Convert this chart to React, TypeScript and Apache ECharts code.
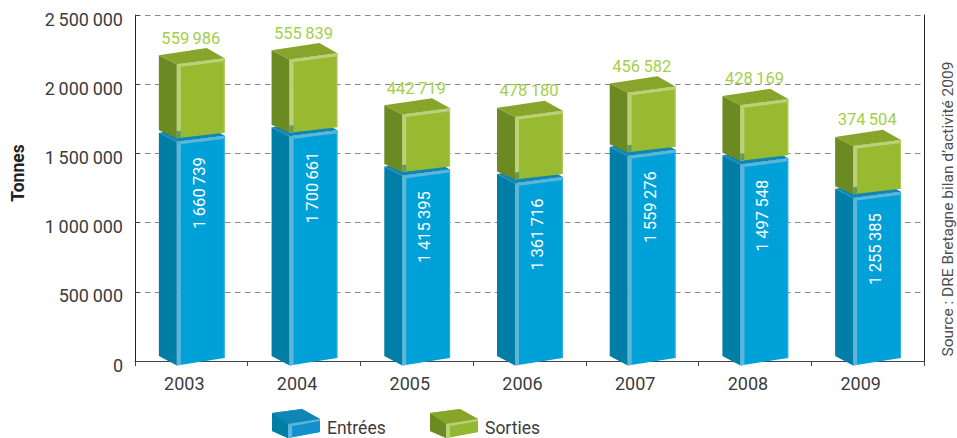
import React, { useEffect, useRef } from "react";
import * as echarts from "echarts";

const years = ["2003", "2004", "2005", "2006", "2007", "2008", "2009"];
const entrees = [1660739, 1700661, 1415395, 1361716, 1559276, 1497548, 1255385];
const sorties = [559986, 555839, 442719, 478180, 456582, 428169, 374504];
const seriesNames = ["Entrées", "Sorties"];
const sourceText = "Source : DRE Bretagne bilan d’activité 2009";
const yName = "Tonnes";

const FONT = "Roboto, 'Noto Sans', sans-serif";
const THIN = "\u2009";
const fmt = (n: number) => String(n).replace(/\B(?=(\d{3})+$)/g, THIN);

const blue = { front: "#00a1d9", left: "#007ea5", top: "#0f86b3", strip: "#5db6d8", edge: "#2fb0e0", label: "#ffffff", legendFront: "#1192cc" };
const green = { front: "#97ba30", left: "#6c8a22", top: "#86a52a", strip: "#bcd07a", edge: "#b0cb5a", label: "#a4cf4c", legendFront: "#93b832" };

const poly = (points: number[][], fill: string) => ({
  type: "polygon",
  shape: { points },
  style: { fill, stroke: "none" },
});

function renderBox(c: typeof blue, withLabel: "inside" | "above") {
  return (params: any, api: any) => {
    const idx = api.value(0);
    const val = api.value(1);
    const base = api.value(2);
    const [cx, vy] = api.coord([idx, base + val]);
    const by = api.coord([idx, base])[1];
    const xl = cx - 32.5, xf = cx - 14.5, xr = cx + 33.3, xb = cx + 15.3;
    const tL = vy + 1.5, tB = vy - 5.7, tR = vy + 4.5, tF = vy + 10.7;
    const isTopBox = base > 0;
    const bL = by + (isTopBox ? -1 : -5);
    const bF = by + (isTopBox ? 7 : 4.5);
    const bR = by + (isTopBox ? 1.5 : -3);
    const children: any[] = [
      poly([[xl, tL], [xf, tF], [xf, bF], [xl, bL]], c.left),
      poly([[xl, tL], [xb, tB], [xr, tR], [xf, tF]], c.top),
      poly([[xf, tF], [xr, tR], [xr, bR], [xf, bF]], c.front),
      poly([[xf, tF], [xr, tR], [xr, tR + 3], [xf + 4, tF + 2.5]], c.strip),
      poly([[xf, tF], [xf + 4, tF + 2.5], [xf + 4, bF - 0.5], [xf, bF]], c.strip),
      poly([[xr - 1, tR], [xr, tR], [xr, bR], [xr - 1, bR]], c.edge),
    ];
    if (isTopBox) {
      children.push(poly([[xf, bF - 7], [xf + 4, bF - 7.5], [xf + 4, bF - 0.5], [xf, bF]], "#5f9c5c"));
    }
    if (withLabel === "inside") {
      children.push({
        type: "text",
        x: cx + 8,
        y: vy + 26,
        rotation: Math.PI / 2,
        style: { text: fmt(val), fill: c.label, font: `16.5px ${FONT}`, align: "right", verticalAlign: "middle" },
      });
    } else {
      children.push({
        type: "text",
        x: cx - 0.5,
        y: vy - 15.5,
        style: { text: fmt(val), fill: c.label, font: `16.5px ${FONT}`, align: "center", verticalAlign: "middle" },
      });
    }
    return { type: "group", children };
  };
}

const legendIcon = "path://M0 4L30 0L48 10L48 23L16 29L0 22Z M0 38L0.01 38L0 38Z";

function legendFacets(x: number, y: number, c: typeof blue) {
  const p = (pts: number[][], fill: string) => ({
    type: "polygon",
    z: 100,
    silent: true,
    shape: { points: pts.map(([a, b]) => [x + a, y + b]) },
    style: { fill },
  });
  return [
    p([[0, 4], [16, 15], [16, 29], [0, 22]], c.left),
    p([[0, 4], [30, 0], [48, 10], [16, 15]], c.top),
    p([[16, 15], [48, 10], [48, 23], [16, 29]], c.legendFront),
    p([[16, 15], [48, 10], [48, 12], [20, 17]], c.strip),
    p([[16, 15], [20, 17], [20, 29], [16, 29]], c.strip),
  ];
}

export default function App() {
  const ref = useRef<HTMLDivElement>(null);
  useEffect(() => {
    document.body.style.margin = "0";
    const chart = echarts.init(ref.current!, undefined, { renderer: "svg" });
    const legendCommon = {
      orient: "horizontal" as const,
      top: 409,
      itemWidth: 48,
      itemHeight: 38,
      itemGap: 0,
      padding: 0,
      selectedMode: false,
      textStyle: { color: "#3c3c3c", fontFamily: FONT, fontSize: 17.5, padding: [0, 0, 0, 2] },
    };
    chart.setOption({
      animation: false,
      textStyle: { fontFamily: FONT },
      grid: { left: 135, right: 33, top: 15, bottom: 77 },
      legend: [
        { ...legendCommon, left: 272, data: [{ name: seriesNames[0], icon: legendIcon }] },
        { ...legendCommon, left: 430, data: [{ name: seriesNames[1], icon: legendIcon }] },
      ],
      xAxis: {
        type: "category",
        data: years,
        axisLine: { lineStyle: { color: "#444", width: 1 } },
        axisTick: { show: true, length: 5, alignWithLabel: false, lineStyle: { color: "#444" } },
        axisLabel: { color: "#3c3c3c", fontSize: 18, fontFamily: FONT, margin: 13, padding: [0, 14, 0, 0] },
      },
      yAxis: [
        {
          type: "value",
          min: 0,
          max: 2500000,
          interval: 500000,
          name: yName,
          nameLocation: "middle",
          nameGap: 108,
          nameTextStyle: { color: "#222", fontWeight: "bold", fontSize: 17.5, fontFamily: FONT, padding: [0, 0, 0, 30] },
          axisLine: { show: true, lineStyle: { color: "#222", width: 1 } },
          axisTick: { show: true, inside: true, length: 5, lineStyle: { color: "#444" } },
          axisLabel: { color: "#3c3c3c", fontSize: 18, fontFamily: FONT, margin: 12, verticalAlign: "top", lineHeight: 8, formatter: (v: number) => fmt(v) },
          splitLine: { show: true, lineStyle: { color: "#888", type: [5.5, 4.5], width: 1 } },
        },
        {
          type: "value",
          position: "right",
          min: 0,
          max: 2500000,
          interval: 500000,
          axisLine: { show: true, lineStyle: { color: "#222", width: 1 } },
          axisTick: { show: false },
          axisLabel: { show: false },
          splitLine: { show: false },
        },
      ],
      series: [
        {
          type: "custom",
          name: seriesNames[0],
          clip: false,
          itemStyle: { color: blue.legendFront },
          encode: { x: 0, y: 1 },
          data: years.map((_, i) => [i, entrees[i], 0]),
          renderItem: renderBox(blue, "inside"),
        },
        {
          type: "custom",
          name: seriesNames[1],
          clip: false,
          itemStyle: { color: green.legendFront },
          encode: { x: 0, y: 1 },
          data: years.map((_, i) => [i, sorties[i], entrees[i]]),
          renderItem: renderBox(green, "above"),
        },
      ],
      graphic: [
        ...legendFacets(272, 409, blue),
        ...legendFacets(430, 409, green),
        {
          type: "text",
          x: 948,
          y: 209,
          rotation: Math.PI / 2,
          style: { text: sourceText, fill: "#4f4f4f", font: `15.5px ${FONT}`, align: "center", verticalAlign: "middle" },
        },
      ],
    });
    return () => chart.dispose();
  }, []);
  return <div ref={ref} style={{ width: 957, height: 438 }} />;
}
